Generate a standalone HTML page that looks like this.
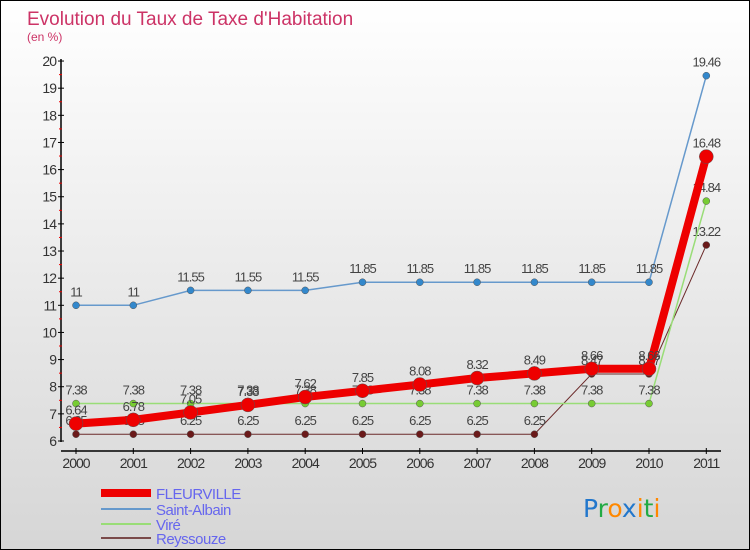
<!DOCTYPE html>
<html><head><meta charset="utf-8"><style>
body{margin:0}
#c{position:relative;width:748px;height:548px;border:1px solid #000;background:linear-gradient(#fff,#d6d6d6);overflow:hidden;font-family:"Liberation Sans",sans-serif}
svg{position:absolute;left:0;top:0}
</style></head><body>
<div id="c">
<svg id="s" width="748" height="548"></svg>
</div>
<script>
const years=["2000","2001","2002","2003","2004","2005","2006","2007","2008","2009","2010","2011"];
const fleurville=[6.64,6.78,7.05,7.33,7.62,7.85,8.08,8.32,8.49,8.66,8.66,16.48];
const saintAlbain=[11,11,11.55,11.55,11.55,11.85,11.85,11.85,11.85,11.85,11.85,19.46];
const vire=[7.38,7.38,7.38,7.38,7.38,7.38,7.38,7.38,7.38,7.38,7.38,14.84];
const reyssouze=[6.25,6.25,6.25,6.25,6.25,6.25,6.25,6.25,6.25,8.47,8.47,13.22];
const yTicks=[6,7,8,9,10,11,12,13,14,15,16,17,18,19,20];
const NS="http://www.w3.org/2000/svg";
const s=document.getElementById('s');
const X=i=>75+i*57.3;
const Y=v=>440-(v-6)*27.14;
function el(t,a,p){const e=document.createElementNS(NS,t);for(const k in a)e.setAttribute(k,a[k]);(p||s).appendChild(e);return e;}
function tx(x,y,str,a,p){const e=el('text',Object.assign({x:x,y:y},a),p);e.textContent=str;return e;}
let t=tx(26,24,"Evolution du Taux de Taxe d'Habitation",{'font-size':19,fill:'#cc3366'});

t=tx(26,40,"(en %)",{'font-size':12,fill:'#cc3366'});

let ax=el('line',{x1:60,y1:58,x2:60,y2:441,stroke:'#000','stroke-width':1.5});

yTicks.forEach(v=>{el('line',{x1:57,x2:63,y1:Y(v),y2:Y(v),stroke:'#000'});
 if(v<20)el('line',{x1:58,x2:61,y1:Y(v+0.5),y2:Y(v+0.5),stroke:'#e00'});
 const l=tx(55,Y(v)+5,String(v),{'font-size':14,fill:'#333','text-anchor':'end','letter-spacing':'-1'});
 });
ax=el('line',{x1:60,y1:450,x2:720,y2:450,stroke:'#000','stroke-width':1.5});

years.forEach((y,i)=>{el('line',{x1:X(i),x2:X(i),y1:447,y2:453,stroke:'#000'});
 const l=tx(X(i),467,y,{'font-size':14,fill:'#333','text-anchor':'middle','letter-spacing':'-1'});
 });
const series=[
 {n:'reyssouze',d:reyssouze,c:'#6b2a2a',w:1,r:3.5,f:'#6b1a1a'},
 {n:'vire',d:vire,c:'#99dd77',w:1.5,r:3.5,f:'#77cc33'},
 {n:'saint-albain',d:saintAlbain,c:'#6699cc',w:1.5,r:3.5,f:'#3388cc'},
 {n:'fleurville',d:fleurville,c:'#ee0000',w:8,r:7,f:'#ee0000'}];
series.forEach(se=>{
 const p=el('polyline',{points:se.d.map((v,i)=>X(i)+','+Y(v)).join(' '),fill:'none',stroke:se.c,'stroke-width':se.w});
 
 se.d.forEach((v,i)=>{const c=el('circle',{cx:X(i),cy:Y(v),r:se.r,fill:se.f,stroke:'#555','stroke-width':0.5});
  
  const l=tx(X(i),Y(v)-9,String(v),{'font-size':13,fill:'#444','text-anchor':'middle','letter-spacing':'-1'});
  });
});
const leg=[['FLEURVILLE','#ee0000',8,492],['Saint-Albain','#6699cc',2,508],['Viré','#99dd77',2,523],['Reyssouze','#7a4a4a',2,537]];
leg.forEach(l=>{const g=el('g',{});
 
 
 el('line',{x1:100,x2:150,y1:l[3],y2:l[3],stroke:l[1],'stroke-width':l[2]},g);
 tx(155,l[3]+6,l[0],{'font-size':15,fill:'#6666ee','letter-spacing':'-0.5'},g);});
const logo=el('text',{x:582,y:516,'font-size':25,'font-family':'DejaVu Sans, sans-serif'});

[['P','#2277cc'],['r','#22aa44'],['o','#ff8800'],['x','#2277cc'],['i','#ff8800'],['t','#22aa44'],['i','#ff8800']].forEach(a=>{const sp=el('tspan',{fill:a[1]},logo);sp.textContent=a[0];});
</script>
</body></html>
